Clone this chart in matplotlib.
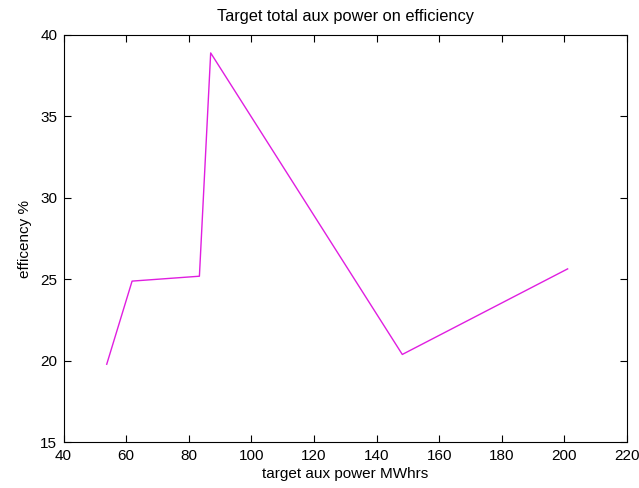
import matplotlib
matplotlib.use('Agg')
from matplotlib import pyplot as plt

# 辅助功率与效率数据
aux_power = [53.8, 61.9, 83.4, 87.0, 148.2, 201.0]
efficiency = [19.8, 24.9, 25.2, 38.9, 20.4, 25.65]

x_ticks = [40, 60, 80, 100, 120, 140, 160, 180, 200, 220]
y_ticks = [15, 20, 25, 30, 35, 40]

plt.rcParams['font.family'] = ['Liberation Sans', 'DejaVu Sans']

fig = plt.figure(figsize=(6.39, 4.88), dpi=100)
axes = fig.add_axes([0.0994, 0.0933, 0.882, 0.835])

axes.plot(aux_power, efficiency, color='#e01ee0', linewidth=1.0)

axes.set_xlim(40, 220)
axes.set_ylim(15, 40)
axes.set_xticks(x_ticks)
axes.set_yticks(y_ticks)
axes.tick_params(direction='in', length=5, width=0.8, top=True, right=True,
                 labelsize=11, pad=4.5)
for sp in axes.spines.values():
    sp.set_linewidth(0.8)

axes.set_xlabel('target aux power MWhrs', fontsize=11, labelpad=3)
axes.set_ylabel('efficency %', fontsize=11, labelpad=6)
axes.set_title('Target total aux power on efficiency', fontsize=11.8, pad=10)

fig.savefig('out.png', dpi=100)
